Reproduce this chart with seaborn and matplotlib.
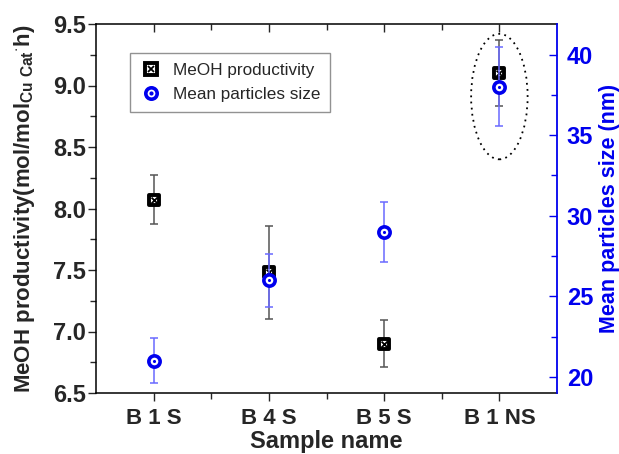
import matplotlib
matplotlib.use("Agg")
import matplotlib.pyplot as plt
import seaborn as sns
import numpy as np
import pandas as pd
from matplotlib.lines import Line2D
from matplotlib.legend_handler import HandlerTuple
from matplotlib.patches import Ellipse
from matplotlib.ticker import MultipleLocator, FixedLocator

samples = ["B 1 S", "B 4 S", "B 5 S", "B 1 NS"]
meoh = [8.07, 7.48, 6.90, 9.10]
meoh_err = [0.20, 0.38, 0.19, 0.27]
size_nm = [21.0, 26.0, 29.0, 38.0]
size_err = [1.4, 1.65, 1.85, 2.45]

sns.set_style("white")
plt.rcParams['font.family'] = ['Liberation Sans', 'DejaVu Sans']
plt.rcParams['mathtext.fontset'] = 'custom'
plt.rcParams['mathtext.rm'] = 'Liberation Sans:bold'
plt.rcParams['mathtext.it'] = 'Liberation Sans:bold'
plt.rcParams['mathtext.bf'] = 'Liberation Sans:bold'

BLUE = "#0000ee"
pos = np.arange(len(samples))
df = pd.DataFrame({"pos": pos, "sample": samples, "meoh": meoh, "size": size_nm})

fig = plt.figure(figsize=(6.19, 4.54), dpi=100)
ax = fig.add_axes([96/619, 1-393/454, (557-96)/619, (393-24)/454])
ax2 = ax.twinx()

# error bars
ax.errorbar(pos, meoh, yerr=meoh_err, fmt='none', ecolor="#555555", elinewidth=1.1,
            capsize=2.8, capthick=1.1, zorder=2)
ax2.errorbar(pos, size_nm, yerr=size_err, fmt='none', ecolor="#6a6aff", elinewidth=1.1,
             capsize=2.8, capthick=1.1, zorder=2)

# markers
sns.scatterplot(data=df, x="pos", y="meoh", ax=ax, marker='s', s=62, color='white',
                edgecolor='black', linewidth=2.8, zorder=5, legend=False)
sns.scatterplot(data=df, x="pos", y="meoh", ax=ax, marker='x', s=18, color='black',
                linewidth=1.3, zorder=6, legend=False)
sns.scatterplot(data=df, x="pos", y="size", ax=ax2, marker='o', s=66, color='white',
                edgecolor=BLUE, linewidth=2.6, zorder=5, legend=False)
sns.scatterplot(data=df, x="pos", y="size", ax=ax2, marker='o', s=5, color=BLUE,
                edgecolor=BLUE, linewidth=0, zorder=6, legend=False)

ax.set_xlim(-0.5, 3.5)
ax.set_ylim(6.5, 9.5)
ax2.set_ylim(19.0, 41.9)

ax.set_xticks(pos)
ax.set_xticklabels(samples)
ax.xaxis.set_minor_locator(FixedLocator([0.5, 1.5, 2.5]))
ax.yaxis.set_major_locator(MultipleLocator(0.5))
ax.yaxis.set_minor_locator(MultipleLocator(0.25))
ax.yaxis.set_major_formatter(matplotlib.ticker.FormatStrFormatter('%.1f'))
ax2.yaxis.set_major_locator(MultipleLocator(5))
ax2.yaxis.set_minor_locator(MultipleLocator(2.5))

ax.tick_params(axis='x', which='both', direction='out', top=True, bottom=True,
               labelsize=16, pad=5)
ax.tick_params(axis='x', which='major', length=6, width=1)
ax.tick_params(axis='x', which='minor', length=4, width=1)
ax.tick_params(axis='y', which='major', direction='out', length=6, width=1, labelsize=17,
               right=False, left=True, pad=1)
ax.tick_params(axis='y', which='minor', direction='out', length=4, width=1, right=False)
for lbl in ax.get_xticklabels() + ax.get_yticklabels():
    lbl.set_fontweight('bold')

# top ticks inward
for t in ax.xaxis.get_major_ticks() + ax.xaxis.get_minor_ticks():
    t.tick2line.set_marker(3)

ax2.tick_params(axis='y', which='major', direction='in', length=6, width=1, colors=BLUE,
                labelsize=17, pad=7)
ax2.tick_params(axis='y', which='minor', direction='in', length=4, width=1, colors=BLUE)
for lbl in ax2.get_yticklabels():
    lbl.set_fontweight('bold')
    lbl.set_color(BLUE)

for sp in ['left', 'bottom', 'top']:
    ax.spines[sp].set_color('black')
    ax.spines[sp].set_linewidth(1.1)
ax2.spines['right'].set_color(BLUE)
ax2.spines['right'].set_linewidth(1.3)
ax2.spines['left'].set_visible(False)
ax2.spines['top'].set_visible(False)
ax2.spines['bottom'].set_visible(False)
ax.spines['right'].set_visible(False)

ax.set_xlabel("Sample name", fontsize=17, fontweight='bold', labelpad=0.5)
ax.set_ylabel(r"MeOH productivity(mol/mol$_{\mathrm{Cu\ Cat}}$$^{\mathrm{\cdot}}$h)",
              fontsize=16, fontweight='bold', labelpad=12)
ax2.set_ylabel("Mean particles size (nm)", fontsize=15.5, fontweight='bold', color=BLUE,
               labelpad=4)

# dotted ellipse around B 1 NS
ax.add_patch(Ellipse((3.0, 8.91), width=0.49, height=1.02, fill=False, edgecolor='black',
                     linestyle=(0, (1, 2.4)), linewidth=1.3, zorder=7))

# legend
h1 = (Line2D([], [], marker='s', ls='none', markersize=8, markerfacecolor='white',
             markeredgecolor='black', markeredgewidth=2.8),
      Line2D([], [], marker='x', ls='none', markersize=4.2, color='black', markeredgewidth=1.3))
h2 = (Line2D([], [], marker='o', ls='none', markersize=8.2, markerfacecolor='white',
             markeredgecolor=BLUE, markeredgewidth=2.6),
      Line2D([], [], marker='o', ls='none', markersize=2, color=BLUE))
leg = ax2.legend([h1, h2], ["MeOH productivity", "Mean particles size"],
                 handler_map={tuple: HandlerTuple(ndivide=1, pad=0)},
                 loc='upper left', bbox_to_anchor=(34/461, 1-29/369), borderaxespad=0,
                 fontsize=12.3, frameon=True, fancybox=False, edgecolor='#777777',
                 borderpad=0.6, handlelength=1.2, handletextpad=0.7, labelspacing=0.5)
leg.get_frame().set_linewidth(1.0)

fig.savefig("out.png", dpi=100)
